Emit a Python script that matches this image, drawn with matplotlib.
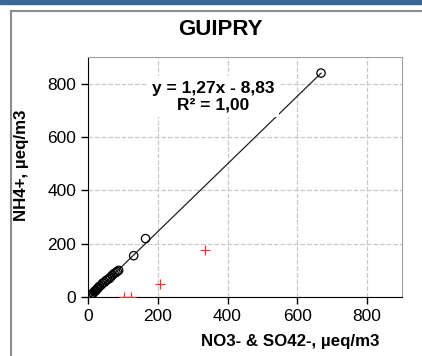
import numpy as np
import matplotlib.pyplot as plt
from matplotlib.patches import Rectangle

plt.rcParams['font.family'] = ['Liberation Sans', 'DejaVu Sans']

# Paired samples kept by the fit (open circles)
x_ok = [668, 165, 131, 88, 84, 80, 75, 70, 65, 62, 57, 52, 48, 42, 38, 33, 30, 28, 25, 22, 20, 18, 15, 12, 10, 8]
y_ok = [840, 219, 155, 100, 96, 92, 88, 82, 75, 70, 66, 62, 56, 52, 45, 40, 36, 33, 28, 24, 22, 20, 15, 10, 7, 4]

# Samples excluded from the fit (red crosses)
x_out = [334, 207, 103, 123]
y_out = [177, 49, 1, 1]

slope, intercept = 1.27, -8.83
ticks = [0, 200, 400, 600, 800]

fig = plt.figure(figsize=(4.22, 3.56), dpi=100)

# frame and header strip
fig.patches.append(Rectangle((0, 0.99), 1, 0.01, transform=fig.transFigure,
                             color='#3b6698', zorder=0))
fig.patches.append(Rectangle((0.027, -0.05), 1.0, 1.02, transform=fig.transFigure,
                             fill=False, edgecolor='#8c8c8c', lw=1.5, zorder=0))

ax = fig.add_axes([0.2085, 0.1657, 0.744, 0.674])
ax.set_xlim(0, 900)
ax.set_ylim(0, 900)
ax.set_xticks(ticks)
ax.set_yticks(ticks)
ax.tick_params(labelsize=12.5, length=5, width=1, direction='out')
ax.grid(True, ls='--', color='#c8c8c8', lw=0.9)
ax.set_axisbelow(True)
for s in ['top', 'right']:
    ax.spines[s].set_color('#a0a0a0')
for s in ['left', 'bottom']:
    ax.spines[s].set_color('black')

xf = np.array([min(x_ok), max(x_ok)])
ax.plot(xf, slope * xf + intercept, color='#202020', lw=0.9, zorder=2)
ax.scatter(x_ok, y_ok, s=36, facecolors='none', edgecolors='black', lw=0.9, zorder=3)
ax.scatter(x_out, y_out, s=60, marker='+', color='#ff3030', lw=0.9, zorder=3)

# equation label on a white box, which hides the fit line where they cross
ax.text(358, 752, 'y = 1,27x - 8,83\nR² = 1,00', ha='center', va='center',
        fontsize=12.5, fontweight='bold', linespacing=1.15, zorder=4,
        bbox=dict(facecolor='white', edgecolor='none', pad=3.5))

fig.text(0.522, 0.918, 'GUIPRY', ha='center', va='center', fontsize=16, fontweight='bold')
fig.text(0.687, 0.04, 'NO3- & SO42-, µeq/m3', ha='center', va='center',
         fontsize=12.2, fontweight='bold')
fig.text(0.052, 0.535, 'NH4+, µeq/m3', ha='center', va='center', rotation=90,
         fontsize=12.2, fontweight='bold')

fig.savefig('out.png', dpi=100)
